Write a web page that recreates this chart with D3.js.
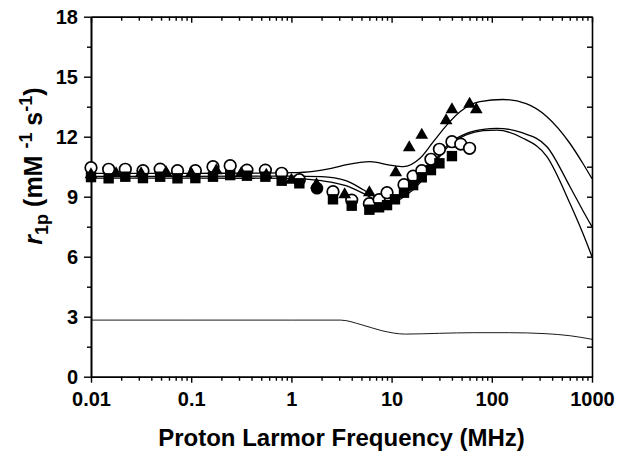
<!DOCTYPE html>
<html><head><meta charset="utf-8">
<script src="https://cdn.jsdelivr.net/npm/d3@7"></script>
<style>
body{margin:0;background:#fff;}
svg text{font-family:"Liberation Sans",Arial,sans-serif;font-weight:bold;fill:#000;}
</style></head>
<body><svg id="c" width="624" height="458"></svg>
<script>
// ---- data ----
const xTickValues = [0.01, 0.1, 1, 10, 100, 1000];
const xTickLabels = ["0.01", "0.1", "1", "10", "100", "1000"];
const yTickValues = [0, 3, 6, 9, 12, 15, 18];
const yMinorValues = [1.5, 4.5, 7.5, 10.5, 13.5, 16.5];

const circleFreq = [0.01,0.015,0.022,0.033,0.049,0.073,0.11,0.165,0.245,0.36,0.55,0.8,1.2,2.6,4.0,6.0,7.5,9.0,13.3,16.4,20,24.7,30,40,49,60];
const circleR1   = [10.45,10.37,10.37,10.3,10.38,10.3,10.3,10.5,10.55,10.33,10.33,10.17,9.85,9.25,8.83,8.65,8.85,9.2,9.6,10.03,10.3,10.87,11.37,11.75,11.63,11.42];

const filledCircleFreq = [1.8];
const filledCircleR1   = [9.42];

const squareFreq = [0.01,0.015,0.022,0.033,0.049,0.073,0.11,0.165,0.245,0.36,0.55,0.8,1.2,2.6,4.0,6.0,7.5,9.0,10.8,13.3,16.4,20,24.7,30,40];
const squareR1   = [9.98,9.92,10.0,9.93,10.0,9.92,9.93,10.0,10.08,10.05,10.0,9.8,9.67,8.87,8.55,8.35,8.47,8.58,8.87,9.2,9.58,9.97,10.33,10.67,11.03];

const triFreq = [0.01,0.0178,0.0316,0.0562,0.1,0.178,0.316,0.562,1.0,1.78,3.4,6.0,11,15,20,35,40,60,70];
const triR1   = [10.1,10.15,10.15,10.2,10.15,10.3,10.17,10.08,9.83,9.6,9.1,9.2,10.2,11.45,12.08,12.8,13.35,13.63,13.35];

const fitAFreq = [0.01,0.1,0.5,1.0,1.66,2.5,3.56,6.09,9.64,13.1,19.2,26.1,35.5,48.2,76.2,129,220,355,603,812,1000];
const fitAR1   = [10.17,10.17,10.18,10.2,10.27,10.42,10.6,10.75,10.58,10.5,10.92,11.75,12.58,13.25,13.75,13.86,13.65,13.0,11.66,10.66,9.9];

const fitBCFreq = [0.01,0.1,1.0,2.0,3.5,5.22,7.66,9.64,14.2,19.2,26.1,38.3,56.2,82.2,112,200,355,603,812,1000];
const fitBR1    = [10.02,10.02,10.03,10.0,9.8,9.35,8.88,8.78,9.2,9.8,10.7,11.7,12.17,12.37,12.42,12.2,11.5,9.5,8.3,7.5];
const fitCR1    = [9.93,9.93,9.92,9.8,9.55,9.17,8.75,8.68,9.1,9.7,10.6,11.6,12.1,12.3,12.33,11.95,11.0,8.66,7.16,6.0];

const fitDFreq = [0.01,0.1,1,3.1,5,8,13.8,30,66,150,347,600,1000];
const fitDR1   = [2.83,2.83,2.83,2.83,2.6,2.3,2.13,2.17,2.2,2.2,2.15,2.05,1.87];

// ---- layout ----
const L = 91, R = 592, T = 16.7, B = 376.7;
const svg = d3.select("#c");
const x = d3.scaleLog().domain([0.01, 1000]).range([L, R]);
const y = d3.scaleLinear().domain([0, 18]).range([B, T]);

const minorX = [];
for (let e = -2; e < 3; e++) for (let k = 2; k <= 9; k++) minorX.push(k * Math.pow(10, e));

function styleAxis(g) {
  g.selectAll("path").attr("stroke", "#000").attr("stroke-width", 1.6);
  g.selectAll("line").attr("stroke", "#000").attr("stroke-width", 1.4);
  g.selectAll("text").style("font-size", "20px");
}

// bottom axis
svg.append("g").attr("transform", `translate(0,${B})`)
  .call(d3.axisBottom(x).tickValues(minorX).tickSize(4).tickSizeOuter(0).tickFormat(""))
  .call(styleAxis);
svg.append("g").attr("transform", `translate(0,${B})`)
  .call(d3.axisBottom(x).tickValues(xTickValues).tickSize(6).tickSizeOuter(0).tickPadding(9)
        .tickFormat((d, i) => xTickLabels[i]))
  .call(styleAxis);
// top axis (inward)
svg.append("g").attr("transform", `translate(0,${T})`)
  .call(d3.axisTop(x).tickValues(minorX).tickSize(-4).tickSizeOuter(0).tickFormat(""))
  .call(styleAxis);
svg.append("g").attr("transform", `translate(0,${T})`)
  .call(d3.axisTop(x).tickValues(xTickValues).tickSize(-6).tickSizeOuter(0).tickFormat(""))
  .call(styleAxis);
// left axis
svg.append("g").attr("transform", `translate(${L},0)`)
  .call(d3.axisLeft(y).tickValues(yMinorValues).tickSize(4).tickSizeOuter(0).tickFormat(""))
  .call(styleAxis);
svg.append("g").attr("transform", `translate(${L},0)`)
  .call(d3.axisLeft(y).tickValues(yTickValues).tickSize(7).tickSizeOuter(0).tickPadding(6).tickFormat(d3.format("d")))
  .call(styleAxis);
// right axis (inward)
svg.append("g").attr("transform", `translate(${R},0)`)
  .call(d3.axisRight(y).tickValues(yMinorValues.concat(yTickValues.slice(1, -1))).tickSize(-5).tickSizeOuter(0).tickFormat(""))
  .call(styleAxis);

// fitted curves
const line = d3.line().x(d => x(d[0])).y(d => y(d[1])).curve(d3.curveMonotoneX);
function drawCurve(fx, fy, w) {
  svg.append("path").datum(fx.map((f, i) => [f, fy[i]]))
    .attr("d", line).attr("fill", "none").attr("stroke", "#000").attr("stroke-width", w);
}
drawCurve(fitAFreq, fitAR1, 1.3);
drawCurve(fitBCFreq, fitBR1, 1.3);
drawCurve(fitBCFreq, fitCR1, 1.3);
drawCurve(fitDFreq, fitDR1, 0.9);

// markers
const circles = circleFreq.map((f, i) => [f, circleR1[i]]);
svg.append("g").selectAll("circle").data(circles).join("circle")
  .attr("cx", d => x(d[0])).attr("cy", d => y(d[1])).attr("r", 5.8)
  .attr("fill", "#fff").attr("stroke", "#000").attr("stroke-width", 1.7);

const fcircles = filledCircleFreq.map((f, i) => [f, filledCircleR1[i]]);
svg.append("g").selectAll("circle").data(fcircles).join("circle")
  .attr("cx", d => x(d[0])).attr("cy", d => y(d[1])).attr("r", 6.3)
  .attr("fill", "#000");

const squares = squareFreq.map((f, i) => [f, squareR1[i]]);
svg.append("g").selectAll("rect").data(squares).join("rect")
  .attr("x", d => x(d[0]) - 5.2).attr("y", d => y(d[1]) - 5.2)
  .attr("width", 10.4).attr("height", 10.4).attr("fill", "#000");

const tris = triFreq.map((f, i) => [f, triR1[i]]);
const triSym = d3.symbol().type(d3.symbolTriangle).size(70);
svg.append("g").selectAll("path").data(tris).join("path")
  .attr("transform", d => `translate(${x(d[0])},${y(d[1])})`)
  .attr("d", triSym).attr("fill", "#000");

// axis titles
svg.append("text").attr("x", (L + R) / 2).attr("y", 446).attr("text-anchor", "middle")
  .style("font-size", "24px").text("Proton Larmor Frequency (MHz)");

const yt = svg.append("text").attr("transform", `translate(42,166) rotate(-90)`)
  .attr("text-anchor", "middle").style("font-size", "25px");
yt.append("tspan").style("font-style", "italic").text("r");
yt.append("tspan").attr("dy", 6).style("font-size", "18px").text("1p");
yt.append("tspan").attr("dy", -6).text(" (mM ");
yt.append("tspan").attr("dy", -10).style("font-size", "18px").text("-1");
yt.append("tspan").attr("dy", 10).text(" s");
yt.append("tspan").attr("dy", -10).style("font-size", "18px").text("-1");
yt.append("tspan").attr("dy", 10).text(")");
</script></body></html>
